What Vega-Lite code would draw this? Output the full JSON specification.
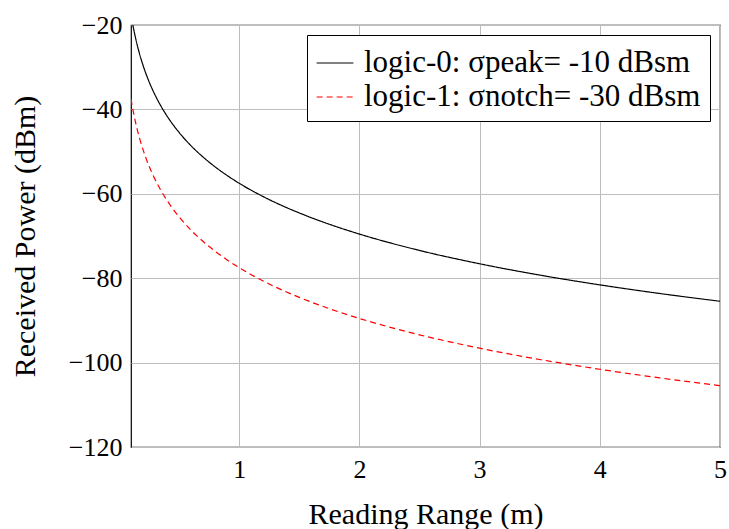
{
  "$schema": "https://vega.github.io/schema/vega-lite/v6.json",
  "width": 589,
  "height": 422,
  "autosize": "none",
  "padding": {"left": 131, "top": 25, "right": 9, "bottom": 82},
  "config": {
    "font": "Liberation Serif, serif",
    "view": {"stroke": "black", "strokeWidth": 1.2},
    "axis": {
      "labelFont": "Liberation Serif, serif",
      "titleFont": "Liberation Serif, serif",
      "labelFontSize": 26,
      "titleFontSize": 30,
      "titleFontWeight": "normal",
      "labelColor": "black",
      "titleColor": "black",
      "gridColor": "#bdbdbd",
      "gridWidth": 1,
      "domain": false,
      "ticks": false,
      "labelFlush": false
    },
    "legend": {"labelFont": "Liberation Serif, serif"}
  },
  "data": {
    "values": [
      {"range": 0.1, "power": -17.5, "series": "logic-0: σpeak= -10 dBsm"},
      {"range": 0.11, "power": -19.16, "series": "logic-0: σpeak= -10 dBsm"},
      {"range": 0.12, "power": -20.67, "series": "logic-0: σpeak= -10 dBsm"},
      {"range": 0.13, "power": -22.06, "series": "logic-0: σpeak= -10 dBsm"},
      {"range": 0.14, "power": -23.34, "series": "logic-0: σpeak= -10 dBsm"},
      {"range": 0.15, "power": -24.54, "series": "logic-0: σpeak= -10 dBsm"},
      {"range": 0.17, "power": -26.72, "series": "logic-0: σpeak= -10 dBsm"},
      {"range": 0.2, "power": -29.54, "series": "logic-0: σpeak= -10 dBsm"},
      {"range": 0.25, "power": -33.42, "series": "logic-0: σpeak= -10 dBsm"},
      {"range": 0.3, "power": -36.58, "series": "logic-0: σpeak= -10 dBsm"},
      {"range": 0.35, "power": -39.26, "series": "logic-0: σpeak= -10 dBsm"},
      {"range": 0.4, "power": -41.58, "series": "logic-0: σpeak= -10 dBsm"},
      {"range": 0.5, "power": -45.46, "series": "logic-0: σpeak= -10 dBsm"},
      {"range": 0.6, "power": -48.63, "series": "logic-0: σpeak= -10 dBsm"},
      {"range": 0.7, "power": -51.3, "series": "logic-0: σpeak= -10 dBsm"},
      {"range": 0.8, "power": -53.62, "series": "logic-0: σpeak= -10 dBsm"},
      {"range": 0.9, "power": -55.67, "series": "logic-0: σpeak= -10 dBsm"},
      {"range": 1, "power": -57.5, "series": "logic-0: σpeak= -10 dBsm"},
      {"range": 1.25, "power": -61.38, "series": "logic-0: σpeak= -10 dBsm"},
      {"range": 1.5, "power": -64.54, "series": "logic-0: σpeak= -10 dBsm"},
      {"range": 1.75, "power": -67.22, "series": "logic-0: σpeak= -10 dBsm"},
      {"range": 2, "power": -69.54, "series": "logic-0: σpeak= -10 dBsm"},
      {"range": 2.5, "power": -73.42, "series": "logic-0: σpeak= -10 dBsm"},
      {"range": 3, "power": -76.58, "series": "logic-0: σpeak= -10 dBsm"},
      {"range": 3.5, "power": -79.26, "series": "logic-0: σpeak= -10 dBsm"},
      {"range": 4, "power": -81.58, "series": "logic-0: σpeak= -10 dBsm"},
      {"range": 4.5, "power": -83.63, "series": "logic-0: σpeak= -10 dBsm"},
      {"range": 5, "power": -85.46, "series": "logic-0: σpeak= -10 dBsm"},
      {"range": 0.1, "power": -37.5, "series": "logic-1: σnotch= -30 dBsm"},
      {"range": 0.11, "power": -39.16, "series": "logic-1: σnotch= -30 dBsm"},
      {"range": 0.12, "power": -40.67, "series": "logic-1: σnotch= -30 dBsm"},
      {"range": 0.13, "power": -42.06, "series": "logic-1: σnotch= -30 dBsm"},
      {"range": 0.14, "power": -43.34, "series": "logic-1: σnotch= -30 dBsm"},
      {"range": 0.15, "power": -44.54, "series": "logic-1: σnotch= -30 dBsm"},
      {"range": 0.17, "power": -46.72, "series": "logic-1: σnotch= -30 dBsm"},
      {"range": 0.2, "power": -49.54, "series": "logic-1: σnotch= -30 dBsm"},
      {"range": 0.25, "power": -53.42, "series": "logic-1: σnotch= -30 dBsm"},
      {"range": 0.3, "power": -56.58, "series": "logic-1: σnotch= -30 dBsm"},
      {"range": 0.35, "power": -59.26, "series": "logic-1: σnotch= -30 dBsm"},
      {"range": 0.4, "power": -61.58, "series": "logic-1: σnotch= -30 dBsm"},
      {"range": 0.5, "power": -65.46, "series": "logic-1: σnotch= -30 dBsm"},
      {"range": 0.6, "power": -68.63, "series": "logic-1: σnotch= -30 dBsm"},
      {"range": 0.7, "power": -71.3, "series": "logic-1: σnotch= -30 dBsm"},
      {"range": 0.8, "power": -73.62, "series": "logic-1: σnotch= -30 dBsm"},
      {"range": 0.9, "power": -75.67, "series": "logic-1: σnotch= -30 dBsm"},
      {"range": 1, "power": -77.5, "series": "logic-1: σnotch= -30 dBsm"},
      {"range": 1.25, "power": -81.38, "series": "logic-1: σnotch= -30 dBsm"},
      {"range": 1.5, "power": -84.54, "series": "logic-1: σnotch= -30 dBsm"},
      {"range": 1.75, "power": -87.22, "series": "logic-1: σnotch= -30 dBsm"},
      {"range": 2, "power": -89.54, "series": "logic-1: σnotch= -30 dBsm"},
      {"range": 2.5, "power": -93.42, "series": "logic-1: σnotch= -30 dBsm"},
      {"range": 3, "power": -96.58, "series": "logic-1: σnotch= -30 dBsm"},
      {"range": 3.5, "power": -99.26, "series": "logic-1: σnotch= -30 dBsm"},
      {"range": 4, "power": -101.58, "series": "logic-1: σnotch= -30 dBsm"},
      {"range": 4.5, "power": -103.63, "series": "logic-1: σnotch= -30 dBsm"},
      {"range": 5, "power": -105.46, "series": "logic-1: σnotch= -30 dBsm"}
    ]
  },
  "mark": {"type": "line", "clip": true, "strokeWidth": 1.2, "interpolate": "monotone"},
  "encoding": {
    "x": {
      "field": "range",
      "type": "quantitative",
      "scale": {"domain": [0.1, 5], "nice": false, "zero": false},
      "axis": {"values": [1, 2, 3, 4, 5], "title": "Reading Range (m)", "labelFont": "Liberation Serif, serif", "labelFontSize": 26, "labelFlush": false, "labelPadding": 9, "titlePadding": 17}
    },
    "y": {
      "field": "power",
      "type": "quantitative",
      "scale": {"domain": [-120, -20], "nice": false, "zero": false},
      "axis": {"values": [-120, -100, -80, -60, -40, -20], "title": "Received Power (dBm)", "labelFont": "Liberation Serif, serif", "labelFontSize": 26, "labelFlush": false, "labelPadding": 9, "titlePadding": 28}
    },
    "color": {
      "field": "series",
      "type": "nominal",
      "scale": {"domain": ["logic-0: σpeak= -10 dBsm", "logic-1: σnotch= -30 dBsm"], "range": ["black", "red"]},
      "legend": {
        "title": null,
        "orient": "top-right",
        "offset": 10,
        "strokeColor": "black",
        "fillColor": "white",
        "padding": 9,
        "labelFont": "Liberation Serif, serif",
        "labelFontSize": 31,
        "labelColor": "black",
        "labelLimit": 500,
        "symbolType": "stroke",
        "symbolSize": 1350,
        "symbolStrokeWidth": 1.2,
        "rowPadding": 0,
        "labelOffset": 10
      }
    },
    "strokeDash": {
      "field": "series",
      "type": "nominal",
      "scale": {"domain": ["logic-0: σpeak= -10 dBsm", "logic-1: σnotch= -30 dBsm"], "range": [[1, 0], [6, 4]]},
      "legend": null
    }
  }
}
